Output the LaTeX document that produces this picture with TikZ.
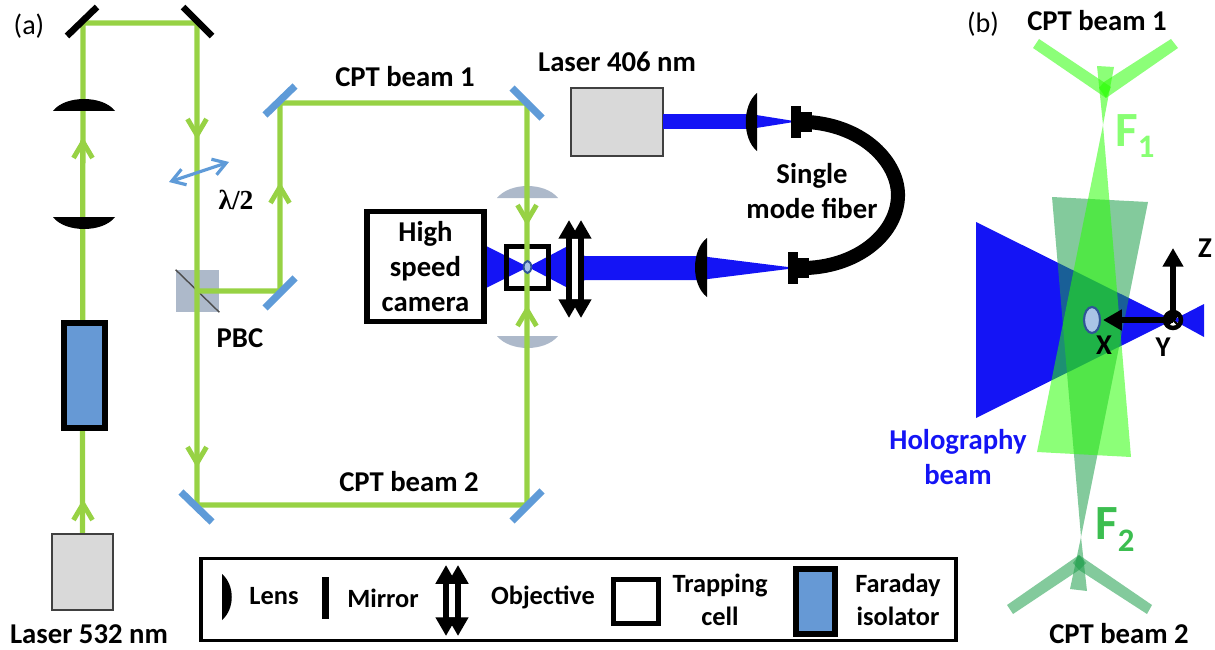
\documentclass[tikz,border=0pt]{standalone}
\usepackage{fontspec}
\setmainfont{Carlito}
\newfontfamily\lamfont{Liberation Serif}
\usetikzlibrary{arrows.meta}
\definecolor{beamgreen}{HTML}{97D244}
\definecolor{mirrorblue}{HTML}{5F9BD8}
\definecolor{isoblue}{HTML}{6699D5}
\definecolor{holoblue}{HTML}{1414F5}
\definecolor{lensgray}{HTML}{ADB9CA}
\definecolor{boxgray}{HTML}{D9D9D9}
\definecolor{fonegreen}{HTML}{26FF00}
\definecolor{ftwogreen}{HTML}{1E9E4B}
\definecolor{ftwotext}{HTML}{3CBE50}
\definecolor{cellblue}{HTML}{A9C4E6}
\definecolor{celledge}{HTML}{2F5597}
\begin{document}
\begin{tikzpicture}[x=0.03cm,y=-0.03cm,
		lab/.style={font=\bfseries\fontsize{24.5}{24.5}\selectfont,inner sep=0pt},
		labm/.style={font=\bfseries\fontsize{24.5}{30}\selectfont,align=center,inner sep=0pt},
		leg/.style={font=\bfseries\fontsize{22.5}{22.5}\selectfont,inner sep=0pt},
		legm/.style={font=\bfseries\fontsize{22.5}{28}\selectfont,align=center,inner sep=0pt},
		panel/.style={font=\fontsize{24}{24}\selectfont,inner sep=0pt},
		greenbeam/.style={draw=beamgreen,line width=4.5pt,miter limit=10},
		chevron/.style={draw=beamgreen,line width=4.2pt},
		blackmirror/.style={draw=black,line width=5.6pt},
		bluemirror/.style={draw=mirrorblue,line width=6.2pt},
		blackbox/.style={draw=black,line width=4.8pt},
		objarrow/.style={line width=5.4pt,{Triangle[width=17pt,length=16pt]}-{Triangle[width=17pt,length=16pt]}},
		axisarrow/.style={line width=5.6pt,-{Triangle[width=17pt,length=16pt]}},
		fone/.style={fill=fonegreen,fill opacity=0.53},
		ftwo/.style={fill=ftwogreen,fill opacity=0.55}]
	\useasboundingbox (0,0) rectangle (1215,649);

	% beam corners
	\coordinate (m1) at (83,23);
	\coordinate (m2) at (197,23);
	\coordinate (m3) at (197,505);
	\coordinate (m4) at (527,505);
	\coordinate (m5) at (527,103);
	\coordinate (m6) at (280,103);
	\coordinate (m7) at (280,291);
	\coordinate (pbc) at (197,291);
	\coordinate (focus) at (528,267);

	% boxes
	\node[draw=black!75,line width=1.6pt,fill=boxgray,minimum width=52pt,minimum height=65pt,inner sep=0pt] (laserg) at (82.5,572) {};
	\node[draw=black!75,line width=1.6pt,fill=boxgray,minimum width=78.5pt,minimum height=58pt,inner sep=0pt] (laserb) at (617,122) {};
	\node[lab] (lasergtxt) at (89,634) {Laser 532 nm};
	\node[lab] (laserbtxt) at (617,62) {Laser 406 nm};

	% holography beam in the cell
	\fill[holoblue] (486,246) -- (focus) -- (486,288) -- cycle;
	\fill[holoblue] (focus) -- (566,247) -- (578,253) -- (585,256) -- (707,256) -- (707,280) -- (585,280) -- (578,284) -- (566,287) -- cycle;
	\fill[white] (571.5,225) rectangle (578.5,312);
	\fill[holoblue] (663,114) rectangle (750,129);
	\fill[holoblue] (750,114) -- (797,121.5) -- (750,129) -- cycle;
	\fill[holoblue] (700,256) -- (796,268) -- (700,280) -- cycle;

	% cell and camera
	\node[blackbox,minimum width=36pt,minimum height=36pt,inner sep=0pt] (cell) at (527.5,267.5) {};
	\node[blackbox,minimum width=100pt,minimum height=94pt,inner sep=0pt,labm] (camera) at (425.5,266.5) {High\\speed\\camera};

	% gray lenses
	\fill[lensgray] (497,198) .. controls (510,182) and (545,182) .. (558,198) -- cycle;
	\fill[lensgray] (497,336) .. controls (510,352) and (545,352) .. (558,336) -- cycle;

	% cube
	\node[fill=lensgray,minimum width=37pt,minimum height=36pt,inner sep=0pt] (cube) at (197.5,291) {};
	\draw[black!70,line width=1.2pt] (cube.north west) -- (cube.south east);

	% green beams
	\draw[greenbeam] (laserg.north) -- (m1) -- (m2) -- (m3) -- (m4) -- (m5) -- (m6) -- (m7) -- (pbc);
	\foreach \x/\y/\s in {83/142/1,83/504/1,197/135/-1,197/463/-1,280/187/1,527/221/-1,527/310/1}{
		\draw[chevron] ({\x-9.5},{\y+16*\s}) -- (\x,\y) -- ({\x+9.5},{\y+16*\s});
	}

	% sample
	\draw[celledge,line width=1.6pt,fill=cellblue] (527.5,267) ellipse (3.8 and 6);

	% mirrors
	\draw[blackmirror] (67,36) -- (97,7);
	\draw[blackmirror] (183,7) -- (212,36);
	\draw[bluemirror] (265,115) -- (295,86);
	\draw[bluemirror] (265,308) -- (295,278);
	\draw[bluemirror] (512,88) -- (542,118);
	\draw[bluemirror] (181,492) -- (212,522);
	\draw[bluemirror] (512,521) -- (542,491);

	% black lenses
	\fill[black] (53,111) .. controls (65,95) and (103,95) .. (115,111) -- cycle;
	\fill[black] (53,217) .. controls (65,233) and (103,233) .. (115,217) -- cycle;
	\fill[black] (757,93) .. controls (742,105) and (742,139) .. (757,151) -- cycle;
	\fill[black] (707,238) .. controls (691,250) and (691,285) .. (707,297) -- cycle;

	% isolator
	\node[blackbox,fill=isoblue,minimum width=35pt,minimum height=90pt,inner sep=0pt] (faraday) at (84.5,375.5) {};

	% objective
	\foreach \x in {569,581}{
		\draw[objarrow] (\x,220) -- (\x,318);
	}

	% fiber
	\draw[line width=12pt] (808,122) .. controls (865,126) and (898,163) .. (898,195) .. controls (898,232) and (860,266) .. (806,268);
	\fill[black] (791,106) rectangle (801,138);
	\fill[black] (801,112) rectangle (812,132);
	\fill[black] (788,252) rectangle (798,284);
	\fill[black] (798,258) rectangle (809,278);

	% half wave plate
	\coordinate (wpa) at (169,182);
	\coordinate (wpb) at (229,162);
	\draw[mirrorblue,line width=2.7pt,{Straight Barb[length=11pt,width=14pt]}-{Straight Barb[length=11pt,width=14pt]}] (wpa) -- (wpb);
	\node[font=\lamfont\bfseries\fontsize{23.5}{24}\selectfont,inner sep=0pt] (wplab) at (236,200) {λ/2};

	% labels
	\node[panel] (pa) at (29,26) {(a)};
	\node[panel] (pb) at (983,24) {(b)};
	\node[lab] (pbclab) at (240,338) {PBC};
	\node[lab] (beamone) at (405,77) {CPT beam 1};
	\node[lab] (beamtwo) at (409,482) {CPT beam 2};
	\node[labm] (fiberlab) at (812,191) {Single\\mode fiber};

	% legend
	\node[draw=black,line width=3pt,minimum width=644pt,minimum height=70pt,inner sep=0pt] (legend) at (578.5,599.5) {};
	\fill[black] (222,574) .. controls (235,585) and (235,609) .. (222,620) -- cycle;
	\node[leg] (lenslab) at (274,596) {Lens};
	\fill[black] (322,577) rectangle (329,619);
	\node[leg] (mirrorlab) at (383,598) {Mirror};
	\foreach \x in {446,458}{
		\draw[objarrow] (\x,565) -- (\x,636);
	}
	\node[leg] (objlab) at (543,597) {Objective};
	\node[blackbox,line width=4.2pt,minimum width=38pt,minimum height=38pt,inner sep=0pt] (legcell) at (636,601.5) {};
	\node[legm] (traplab) at (720,600) {Trapping\\cell};
	\node[blackbox,line width=5pt,fill=isoblue,minimum width=33pt,minimum height=55pt,inner sep=0pt] (legiso) at (815.5,601.5) {};
	\node[legm] (farlab) at (898,600) {Faraday\\isolator};

	% panel b, holography beam
	\fill[holoblue] (976,222) -- (1173,320) -- (976,418) -- cycle;
	\fill[holoblue] (1204,304) -- (1173,320) -- (1204,337) -- cycle;

	% panel b, beam 2
	\fill[ftwo] (1052,197) -- (1148,202) -- (1081,537) -- (1087,591) -- (1070,589) -- (1081,537) -- cycle;
	\fill[ftwo] (1007,605) -- (1013,614) -- (1079,570) -- (1086,563) -- (1079,555) -- cycle;
	\fill[ftwo] (1152,605) -- (1147,614) -- (1079,570) -- (1073,563) -- (1079,555) -- cycle;

	% panel b, beam 1
	\fill[fone] (1097,66) -- (1114,67) -- (1103,125) -- (1131,457) -- (1037,452) -- (1103,125) -- cycle;
	\fill[fone] (1033,48) -- (1039,39) -- (1111,87) -- (1106,98) -- cycle;
	\fill[fone] (1178,48) -- (1171,39) -- (1104,82) -- (1099,88) -- (1106,98) -- cycle;

	% axes
	\coordinate (origin) at (1173,320);
	\coordinate (zend) at (1173,248);
	\coordinate (xend) at (1103,320);
	\draw[axisarrow] (origin) -- (zend);
	\draw[axisarrow] (origin) -- (xend);
	\draw[black,line width=3.8pt] (origin) circle (8);
	\draw[black,line width=1.8pt] (1168,315) -- (1178,325) (1168,325) -- (1178,315);
	\draw[celledge,line width=1.8pt,fill=cellblue] (1092,320) ellipse (8 and 13);

	% panel b, labels
	\node[lab] (beamonetop) at (1097,21) {CPT beam 1};
	\node[lab] (beamtwobot) at (1119,634) {CPT beam 2};
	\node[labm,text=holoblue] (holo) at (958,457) {Holography\\beam};
	\node[lab] (zlab) at (1205,248) {Z};
	\node[lab] (xlab) at (1104,345) {X};
	\node[lab] (ylab) at (1163,347) {Y};
	\node[anchor=base west,inner sep=0pt,font=\bfseries\fontsize{42}{42}\selectfont,text=fonegreen!55] (fonelab) at (1115,146) {F\raisebox{-10pt}{\fontsize{28}{28}\selectfont 1}};
	\node[anchor=base west,inner sep=0pt,font=\bfseries\fontsize{42}{42}\selectfont,text=ftwotext] (ftwolab) at (1095,539) {F\raisebox{-11pt}{\fontsize{28}{28}\selectfont 2}};
\end{tikzpicture}
\end{document}
